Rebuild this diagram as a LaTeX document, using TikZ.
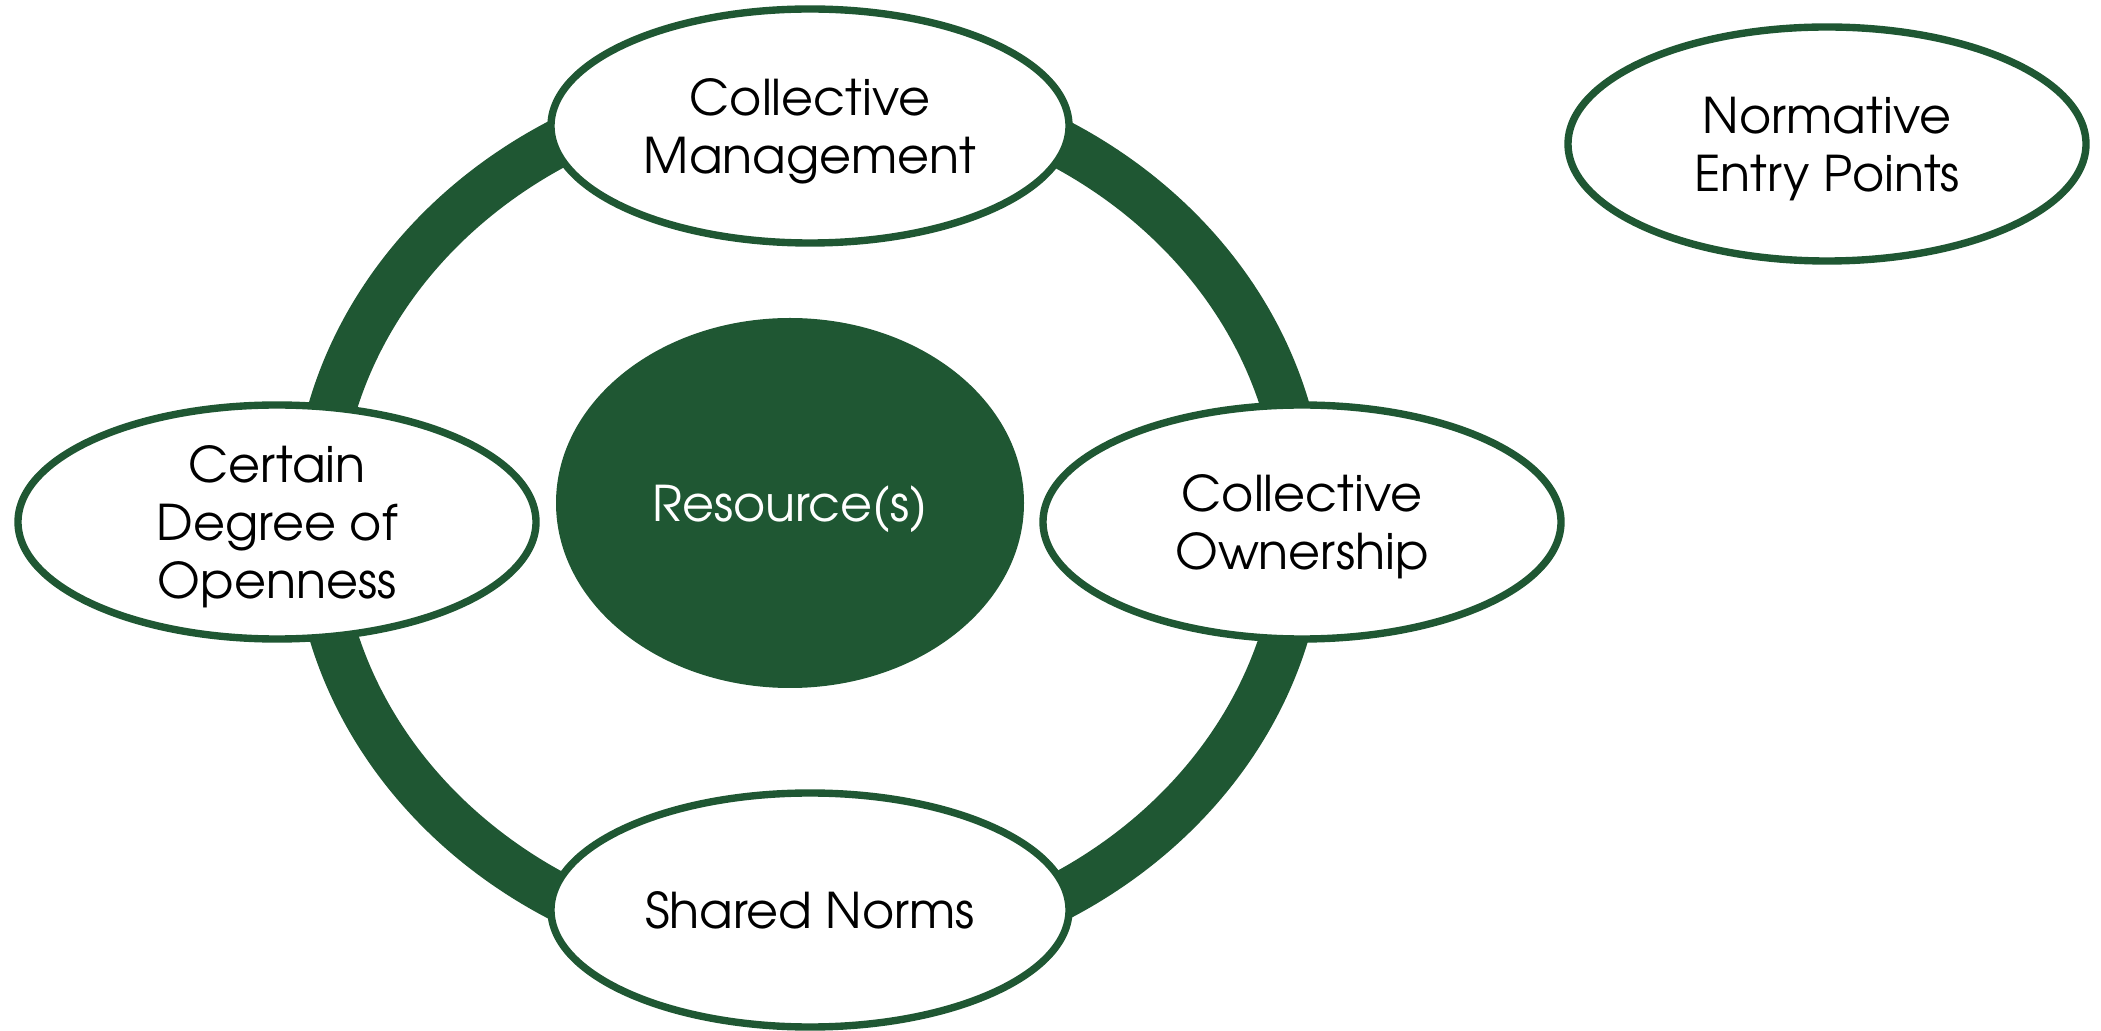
\documentclass[tikz,border=0pt]{standalone}
\usepackage{fontspec}
\setmainfont{TeX Gyre Adventor}
\usepackage{tikz}
\usetikzlibrary{shapes.geometric}
\definecolor{commonsgreen}{RGB}{31,87,51}
\newcommand{\ringx}{8.09}
\newcommand{\ringy}{5.10}
\tikzset{%
  pillar/.style={ellipse, draw=commonsgreen, line width=2.1pt, fill=white,
    minimum width=5.18cm, minimum height=2.34cm, inner sep=0pt, text depth=0pt,
    align=center, font=\fontsize{14}{16.5}\selectfont},
  core/.style={ellipse, fill=commonsgreen, text=white,
    minimum width=4.68cm, minimum height=3.70cm, inner sep=0pt, text depth=0pt,
    font=\fontsize{14}{16.5}\selectfont}
}

\begin{document}
\begin{tikzpicture}
\useasboundingbox (0,0) rectangle (21.01,10.30);

\draw[commonsgreen, line width=0.48cm] (\ringx,\ringy) ellipse [x radius=4.93, y radius=4.375];

\node[core] at (7.90, 5.27) (resource) {Resource(s)};

\node[pillar] at (8.10, 9.04) (management) {Collective\\Management};
\node[pillar] at (2.77, 5.08) (openness) {Certain\\Degree of\\Openness};
\node[pillar] at (13.02, 5.08) (ownership) {Collective\\Ownership};
\node[pillar] at (8.10, 1.20) (norms) {Shared Norms};

\node[pillar] at (18.27, 8.86) (entry) {Normative\\Entry Points};

\end{tikzpicture}
\end{document}
